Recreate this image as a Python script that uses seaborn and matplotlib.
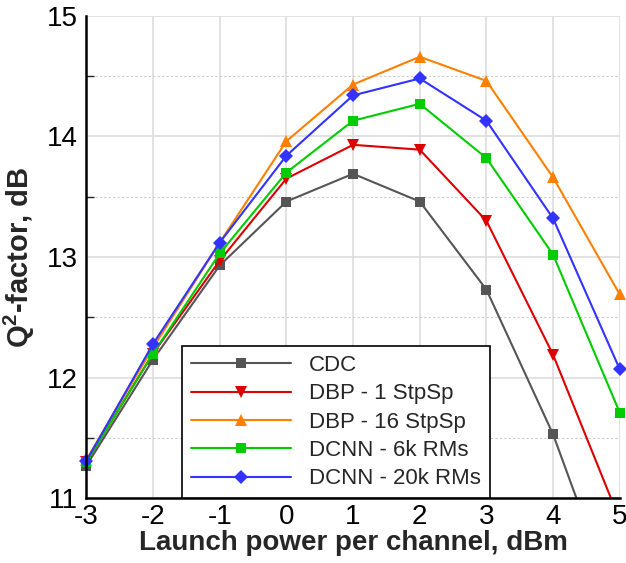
import numpy as np
import pandas as pd
import seaborn as sns
import matplotlib
matplotlib.use("Agg")
import matplotlib.pyplot as plt
from matplotlib.transforms import Bbox, TransformedBbox
from matplotlib.ticker import MultipleLocator
from matplotlib.lines import Line2D

power = [-3, -2, -1, 0, 1, 2, 3, 4, 5]
cdc = [11.27, 12.15, 12.93, 13.46, 13.69, 13.46, 12.73, 11.53, 10.02]
dbp1 = [11.30, 12.20, 12.97, 13.65, 13.93, 13.89, 13.30, 12.19, 10.82]
dbp16 = [11.32, 12.25, 13.12, 13.96, 14.43, 14.66, 14.46, 13.66, 12.69]
dcnn6k = [11.30, 12.20, 13.03, 13.70, 14.13, 14.27, 13.82, 13.02, 11.71]
dcnn20k = [11.31, 12.28, 13.12, 13.84, 14.34, 14.48, 14.13, 13.32, 12.07]
labels = ["CDC", "DBP - 1 StpSp", "DBP - 16 StpSp", "DCNN - 6k RMs", "DCNN - 20k RMs"]

series = [cdc, dbp1, dbp16, dcnn6k, dcnn20k]
df = pd.DataFrame({
    "x": power * len(labels),
    "y": sum(series, []),
    "method": sum([[l] * len(power) for l in labels], []),
})

sns.set_style("white")
plt.rcParams["font.family"] = ["Liberation Sans", "DejaVu Sans"]
plt.rcParams["axes.unicode_minus"] = False
plt.rcParams["mathtext.fontset"] = "custom"
plt.rcParams["mathtext.rm"] = "Liberation Sans"
plt.rcParams["mathtext.bf"] = "Liberation Sans:bold"

colors = ["#555555", "#dd0000", "#ff8000", "#00cc00", "#3333ff"]
markers = ["s", "v", "^", "s", "D"]
msizes = [7, 8, 8, 7, 7]

fig = plt.figure(figsize=(6.26, 5.63), dpi=100)
ax = fig.add_axes([0.138, 0.115, 0.852, 0.857])

sns.lineplot(data=df, x="x", y="y", hue="method", style="method",
             palette=colors, markers=markers, dashes=False, ax=ax,
             linewidth=1.5, markersize=7, markeredgewidth=0, legend=False)

clip = TransformedBbox(Bbox([[-3.3, 11.0], [5.3, 15.2]]), ax.transData)
for line, ms in zip(ax.lines, msizes):
    line.set_clip_box(clip)
    line.set_markersize(ms)

ax.set_xlim(-3, 5)
ax.set_ylim(11, 15)
ax.xaxis.set_major_locator(MultipleLocator(1))
ax.yaxis.set_major_locator(MultipleLocator(1))
ax.yaxis.set_minor_locator(MultipleLocator(0.5))
ax.grid(True, which="major", color="#dddddd", linewidth=1.2, linestyle="-")
ax.grid(True, which="minor", axis="y", color="#cccccc", linewidth=0.8, linestyle=(0, (2, 2)))
ax.set_axisbelow(True)

for s in ["top", "right"]:
    ax.spines[s].set_visible(False)
for s in ["left", "bottom"]:
    ax.spines[s].set_linewidth(1.8)
    ax.spines[s].set_color("black")

ax.tick_params(axis="both", which="major", direction="in", length=10, width=1.5,
               labelsize=20, colors="black")
ax.tick_params(axis="y", which="minor", direction="in", length=6, width=1.0, left=True)
ax.tick_params(axis="x", which="major", pad=4)
ax.tick_params(axis="y", which="major", pad=6)

ax.set_xlabel("Launch power per channel, dBm", fontsize=20, fontweight="bold", labelpad=0)
ax.set_ylabel(r"Q$^\mathbf{2}$-factor, dB", fontsize=21, fontweight="bold", labelpad=7)

handles = [Line2D([0], [0], color=c, marker=m, markersize=ms, markeredgewidth=0, linewidth=1.5)
           for c, m, ms in zip(colors, markers, msizes)]
leg = ax.legend(handles, labels, loc="lower left", bbox_to_anchor=(0.18, 0.0),
                fontsize=16, frameon=True, fancybox=False, edgecolor="black",
                framealpha=1, handlelength=4.5, handletextpad=0.8, labelspacing=0.33,
                borderpad=0.4, borderaxespad=0)
leg.get_frame().set_linewidth(1.2)

fig.savefig("out.png", dpi=100)
